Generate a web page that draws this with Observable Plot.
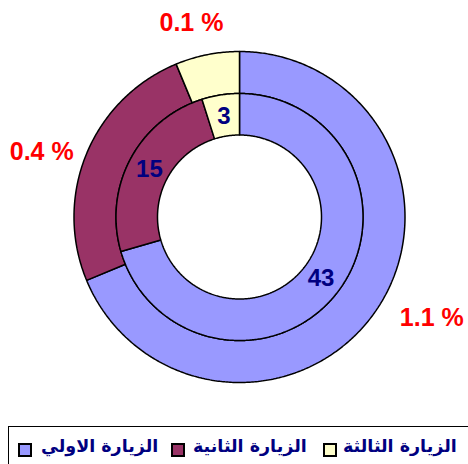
<!DOCTYPE html>
<html>
<head>
<meta charset="utf-8">
<script src="https://cdn.jsdelivr.net/npm/d3@7"></script>
<script src="https://cdn.jsdelivr.net/npm/@observablehq/plot@0.6"></script>
<style>
  html, body { margin: 0; padding: 0; background: #fff; overflow: hidden; }
  #wrap { position: relative; width: 468px; height: 464px; }
  #legend {
    position: absolute; left: 8px; top: 426px; width: 480px; height: 60px;
    border: 1px solid #000; box-sizing: border-box; background: #fff;
  }
  .sw { position: absolute; top: 16px; width: 14px; height: 14px; border: 2px solid #000; box-sizing: border-box; }
  .lt { position: absolute; top: 4px; font-family: "DejaVu Sans", sans-serif; font-weight: bold; font-size: 17.5px; color: #000080; white-space: nowrap; direction: rtl; line-height: 30px; }
</style>
</head>
<body>
<div id="wrap">
  <div id="chart"></div>
  <div id="legend"></div>
</div>
<script>
// ---- data ----
const categories = ["الزيارة الاولي", "الزيارة الثانية", "الزيارة الثالثة"];
const visits = [43, 15, 3];              // inner ring
const percents = [1.1, 0.4, 0.1];        // outer ring
const percentLabels = ["1.1 %", "0.4 %", "0.1 %"];
const colors = ["#9999FF", "#993366", "#FFFFCC"];

// ---- layout ----
const W = 468, H = 426;
const cx = 239, cy = 216.5;
const rIn = 82, rMid = 123.5, rOut = 165.5;
const innerLabelR = 102;
const outerLabelR = 200;
const outerNudge = [[26, -10], [-13, 12], [-9, 2]];

const pie = d3.pie().sort(null).value(d => d);

function ringPolygons(values, r0, r1, ring) {
  const arcs = pie(values);
  const pts = [];
  arcs.forEach((a, i) => {
    const id = ring + "-" + i;
    const n = Math.max(2, Math.ceil((a.endAngle - a.startAngle) / 0.01));
    const poly = [];
    for (let k = 0; k <= n; k++) {
      const t = a.startAngle + (a.endAngle - a.startAngle) * k / n;
      poly.push([r1 * Math.sin(t), -r1 * Math.cos(t)]);
    }
    for (let k = n; k >= 0; k--) {
      const t = a.startAngle + (a.endAngle - a.startAngle) * k / n;
      poly.push([r0 * Math.sin(t), -r0 * Math.cos(t)]);
    }
    poly.push(poly[0]);
    poly.forEach(p => pts.push({id, cat: categories[i], x: p[0], y: p[1]}));
  });
  return {arcs, pts};
}

const inner = ringPolygons(visits, rIn, rMid, "in");
const outer = ringPolygons(percents, rMid, rOut, "out");

const innerLabels = inner.arcs.map((a, i) => {
  const m = (a.startAngle + a.endAngle) / 2;
  return {x: innerLabelR * Math.sin(m), y: -innerLabelR * Math.cos(m), text: String(visits[i])};
});
const outerLabels = outer.arcs.map((a, i) => {
  const m = (a.startAngle + a.endAngle) / 2;
  return {x: outerLabelR * Math.sin(m) + outerNudge[i][0], y: -outerLabelR * Math.cos(m) + outerNudge[i][1], text: percentLabels[i]};
});

const chart = Plot.plot({
  width: W, height: H,
  margin: 0,
  x: {domain: [-cx, W - cx], range: [0, W], axis: null},
  y: {domain: [-cy, H - cy], range: [0, H], axis: null},
  color: {domain: categories, range: colors},
  style: {background: "#fff", fontFamily: "'Liberation Sans', Arial, sans-serif"},
  marks: [
    Plot.line(outer.pts, {x: "x", y: "y", z: "id", fill: "cat", stroke: "#000", strokeWidth: 1.5, curve: "linear", strokeLinejoin: "miter"}),
    Plot.line(inner.pts, {x: "x", y: "y", z: "id", fill: "cat", stroke: "#000", strokeWidth: 1.5, curve: "linear", strokeLinejoin: "miter"}),
    Plot.text(innerLabels, {x: "x", y: "y", text: "text", fill: "#000080", fontSize: 24, fontWeight: "bold"}),
    Plot.text(outerLabels, {x: "x", y: "y", text: "text", fill: "#FF0000", fontSize: 25, fontWeight: "bold"})
  ]
});
document.getElementById("chart").appendChild(chart);

// ---- legend ----
const legend = document.getElementById("legend");
const swLeft = [9, 162, 314];
const txLeft = [32, 184, 334];
categories.forEach((c, i) => {
  const s = document.createElement("div");
  s.className = "sw";
  s.style.left = swLeft[i] + "px";
  s.style.background = colors[i];
  legend.appendChild(s);
  const t = document.createElement("span");
  t.className = "lt";
  t.style.left = txLeft[i] + "px";
  t.textContent = c;
  legend.appendChild(t);
});
</script>
</body>
</html>
